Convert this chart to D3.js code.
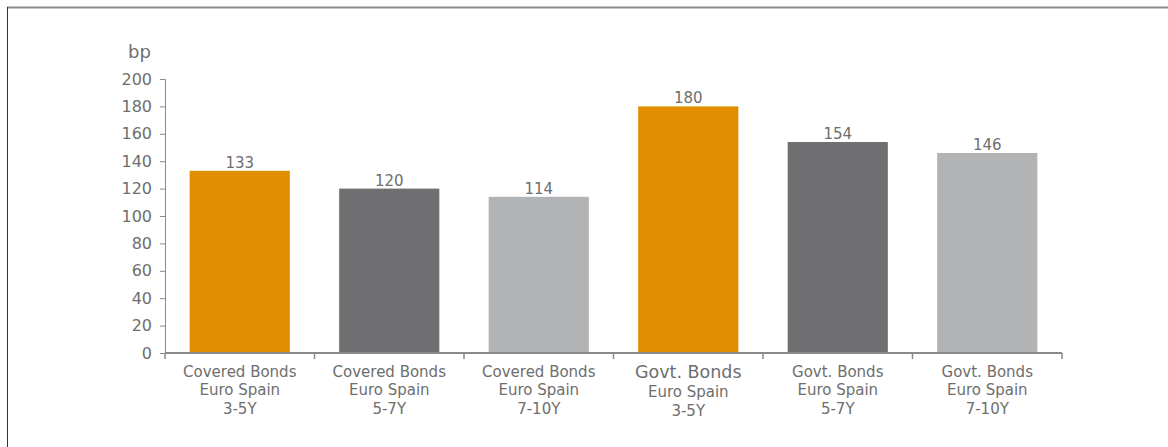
<!DOCTYPE html>
<html>
<head>
<meta charset="utf-8">
<script src="https://cdn.jsdelivr.net/npm/d3@7"></script>
<style>
  body { margin: 0; background: #fff; }
  svg { display: block; overflow: visible; font-family: "DejaVu Sans", Verdana, sans-serif; }
</style>
</head>
<body>
<div id="chart"></div>
<script>
// Daten
const categories = [
    ["Covered Bonds", "Euro Spain", "3-5Y"],
    ["Covered Bonds", "Euro Spain", "5-7Y"],
    ["Covered Bonds", "Euro Spain", "7-10Y"],
    ["Govt. Bonds", "Euro Spain", "3-5Y"],
    ["Govt. Bonds", "Euro Spain", "5-7Y"],
    ["Govt. Bonds", "Euro Spain", "7-10Y"]
];
const values = [133, 120, 114, 180, 154, 146];
const yTicks = [0, 20, 40, 60, 80, 100, 120, 140, 160, 180, 200];
const barColors = ["#E08E00", "#6F6F71", "#B2B3B5", "#E08E00", "#6F6F71", "#B2B3B5"];

const width = 1168;
const height = 447;
const margin = {top: 79, right: 106, bottom: 94, left: 165};
const innerWidth = width - margin.left - margin.right;
const innerHeight = height - margin.top - margin.bottom;
const textColor = "#6e6e6e";
const axisColor = "#8a8a8a";

const svg = d3.select("#chart")
    .append("svg")
    .attr("width", width)
    .attr("height", height);

// Rahmen oben und links
svg.append("line")
    .attr("x1", 7).attr("x2", width).attr("y1", 7.5).attr("y2", 7.5)
    .attr("stroke", "#8c8c8c").attr("stroke-width", 2);
svg.append("line")
    .attr("x1", 7.5).attr("x2", 7.5).attr("y1", 7).attr("y2", height)
    .attr("stroke", "#333").attr("stroke-width", 1);

const innerChart = svg.append("g")
    .attr("transform", `translate(${margin.left}, ${margin.top})`);

const xScale = d3.scaleBand()
    .domain(d3.range(categories.length))
    .range([0, innerWidth])
    .paddingInner(0.33)
    .paddingOuter(0.165);

const yScale = d3.scaleLinear()
    .domain([0, 200])
    .range([innerHeight, 0]);

// Balken
innerChart.selectAll("rect")
    .data(values)
    .join("rect")
    .attr("x", (d, i) => xScale(i))
    .attr("y", d => yScale(d))
    .attr("width", xScale.bandwidth())
    .attr("height", d => innerHeight - yScale(d))
    .attr("fill", (d, i) => barColors[i]);

// Werte über den Balken
innerChart.selectAll(".value")
    .data(values)
    .join("text")
    .attr("class", "value")
    .attr("x", (d, i) => xScale(i) + xScale.bandwidth() / 2)
    .attr("y", d => yScale(d) - 3)
    .attr("text-anchor", "middle")
    .attr("font-size", 15)
    .attr("fill", textColor)
    .text(d => d);

// Y-Achse
const leftAxis = d3.axisLeft(yScale)
    .tickValues(yTicks)
    .tickSize(5)
    .tickPadding(8);
const yAxis = innerChart.append("g").call(leftAxis);
yAxis.select(".domain").attr("stroke", axisColor).attr("d", `M-5,0.5H0.5V${innerHeight}`);
yAxis.selectAll(".tick line").attr("stroke", axisColor);
yAxis.selectAll(".tick text")
    .attr("font-size", 16)
    .attr("font-family", "DejaVu Sans, Verdana, sans-serif")
    .attr("fill", textColor);

// X-Achse (Kategoriegrenzen als Ticks)
const step = xScale.step();
const xAxisG = innerChart.append("g")
    .attr("transform", `translate(0, ${innerHeight})`);
xAxisG.append("line")
    .attr("x1", 0).attr("x2", innerWidth)
    .attr("stroke", axisColor).attr("stroke-width", 2);
xAxisG.selectAll(".sep")
    .data(d3.range(categories.length + 1))
    .join("line")
    .attr("class", "sep")
    .attr("x1", i => i === categories.length ? innerWidth : xScale(i) - step * xScale.paddingInner() / 2)
    .attr("x2", i => i === categories.length ? innerWidth : xScale(i) - step * xScale.paddingInner() / 2)
    .attr("y1", 0).attr("y2", 6)
    .attr("stroke", axisColor).attr("stroke-width", 1.5);

// Kategorie-Beschriftung (die 4. Kategorie hat eine größere erste Zeile)
const labels = xAxisG.selectAll(".cat")
    .data(categories)
    .join("text")
    .attr("class", "cat")
    .attr("text-anchor", "middle")
    .attr("fill", textColor)
    .attr("font-size", 15);
labels.each(function(lines, i) {
    const t = d3.select(this);
    const cx = xScale(i) + xScale.bandwidth() / 2;
    const offsets = i === 3 ? [25, 44, 62.5] : [23.5, 42, 60.5];
    lines.forEach((line, j) => {
        t.append("tspan")
            .attr("x", cx)
            .attr("y", offsets[j])
            .attr("font-size", i === 3 && j === 0 ? 17.5 : null)
            .text(line);
    });
});

// Einheit
svg.append("text")
    .text("bp")
    .attr("x", 128)
    .attr("y", 58)
    .attr("font-size", 18)
    .attr("fill", textColor);
</script>
</body>
</html>
